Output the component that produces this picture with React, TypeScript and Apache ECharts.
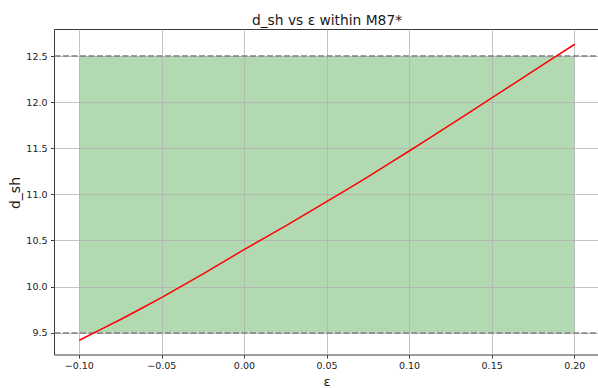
import React, { useEffect, useRef } from "react";
import * as echarts from "echarts";

const epsilon = [-0.1, -0.075, -0.05, -0.025, 0.0, 0.025, 0.05, 0.075, 0.1, 0.125, 0.15, 0.175, 0.2];
const dSh = [9.42, 9.645, 9.885, 10.14, 10.405, 10.66, 10.925, 11.195, 11.475, 11.76, 12.05, 12.34, 12.63];
const bandX = [-0.1, 0.2];
const bandY = [9.5, 12.5];
const xTicks = [-0.1, -0.05, 0.0, 0.05, 0.1, 0.15, 0.2];
const yTicks = [9.5, 10.0, 10.5, 11.0, 11.5, 12.0, 12.5];
const xRange = [-0.115, 0.215];
const yRange = [9.26, 12.79];

const FONT = "DejaVu Sans";

export default function App() {
  const ref = useRef<HTMLDivElement>(null);
  useEffect(() => {
    if (!ref.current) return;
    const chart = echarts.init(ref.current, undefined, { renderer: "svg" });
    const fmtX = (v: number) => v.toFixed(2).replace("-", "\u2212");
    const fmtY = (v: number) => v.toFixed(1);
    chart.setOption({
      animation: false,
      backgroundColor: "#ffffff",
      textStyle: { fontFamily: FONT },
      graphic: [
        {
          type: "text",
          x: 327,
          y: 19.5,
          style: {
            text: "d_sh vs \u03b5 within M87*",
            fontFamily: FONT,
            fontSize: 13.8,
            fill: "#1a1a1a",
            align: "center",
            verticalAlign: "middle",
          },
        },
        {
          type: "text",
          x: 15,
          y: 193,
          rotation: Math.PI / 2,
          style: {
            text: "d_sh",
            fontFamily: FONT,
            fontSize: 14,
            fill: "#1a1a1a",
            align: "center",
            verticalAlign: "middle",
          },
        },
      ],
      grid: {
        left: 54.5,
        top: 29.5,
        width: 545,
        height: 325.5,
        containLabel: false,
        outerBoundsMode: "none",
        show: true,
        borderColor: "#3a3a3a",
        borderWidth: 1,
        backgroundColor: "transparent",
      },
      xAxis: {
        type: "value",
        min: xRange[0],
        max: xRange[1],
        z: 3,
        name: "\u03b5",
        nameLocation: "middle",
        nameGap: 20,
        nameMoveOverlap: false,
        nameTextStyle: { fontFamily: FONT, fontSize: 13, color: "#1a1a1a" },
        axisLine: { show: false, onZero: false },
        axisTick: {
          show: true,
          length: 3.5,
          customValues: xTicks,
          lineStyle: { color: "#3a3a3a", width: 1 },
        },
        axisLabel: {
          customValues: xTicks,
          formatter: fmtX,
          fontFamily: FONT,
          fontSize: 9.5,
          color: "#222",
          margin: 5,
        },
        splitLine: { show: true, lineStyle: { color: "#b0b0b0", width: 0.9, opacity: 0.85 } },
      },
      yAxis: {
        type: "value",
        min: yRange[0],
        max: yRange[1],
        z: 3,
        axisLine: { show: false, onZero: false },
        axisTick: {
          show: true,
          length: 3.5,
          customValues: yTicks,
          lineStyle: { color: "#3a3a3a", width: 1 },
        },
        axisLabel: {
          customValues: yTicks,
          formatter: fmtY,
          fontFamily: FONT,
          fontSize: 9.5,
          color: "#222",
          margin: 7,
        },
        splitLine: { show: true, lineStyle: { color: "#b0b0b0", width: 0.9, opacity: 0.85 } },
      },
      series: [
        {
          type: "line",
          z: 1,
          symbol: "none",
          data: [
            [bandX[0], bandY[1]],
            [bandX[1], bandY[1]],
          ],
          lineStyle: { width: 0 },
          areaStyle: { color: "rgba(0,128,0,0.3)", origin: bandY[0], opacity: 1 },
          silent: true,
        },
        {
          type: "line",
          z: 4,
          symbol: "none",
          data: [],
          silent: true,
          markLine: {
            silent: true,
            symbol: "none",
            label: { show: false },
            lineStyle: { color: "#808080", type: [6, 2.5], width: 1.5 },
            data: bandY.map((v) => ({ yAxis: v })),
          },
        },
        {
          type: "line",
          z: 5,
          symbol: "none",
          smooth: 0.2,
          data: epsilon.map((e, i) => [e, dSh[i]]),
          lineStyle: { color: "#ff0000", width: 1.5 },
        },
      ],
    });
    return () => chart.dispose();
  }, []);
  return (
    <div
      ref={ref}
      style={{ position: "fixed", left: 0, top: 0, width: 598, height: 388 }}
    />
  );
}
